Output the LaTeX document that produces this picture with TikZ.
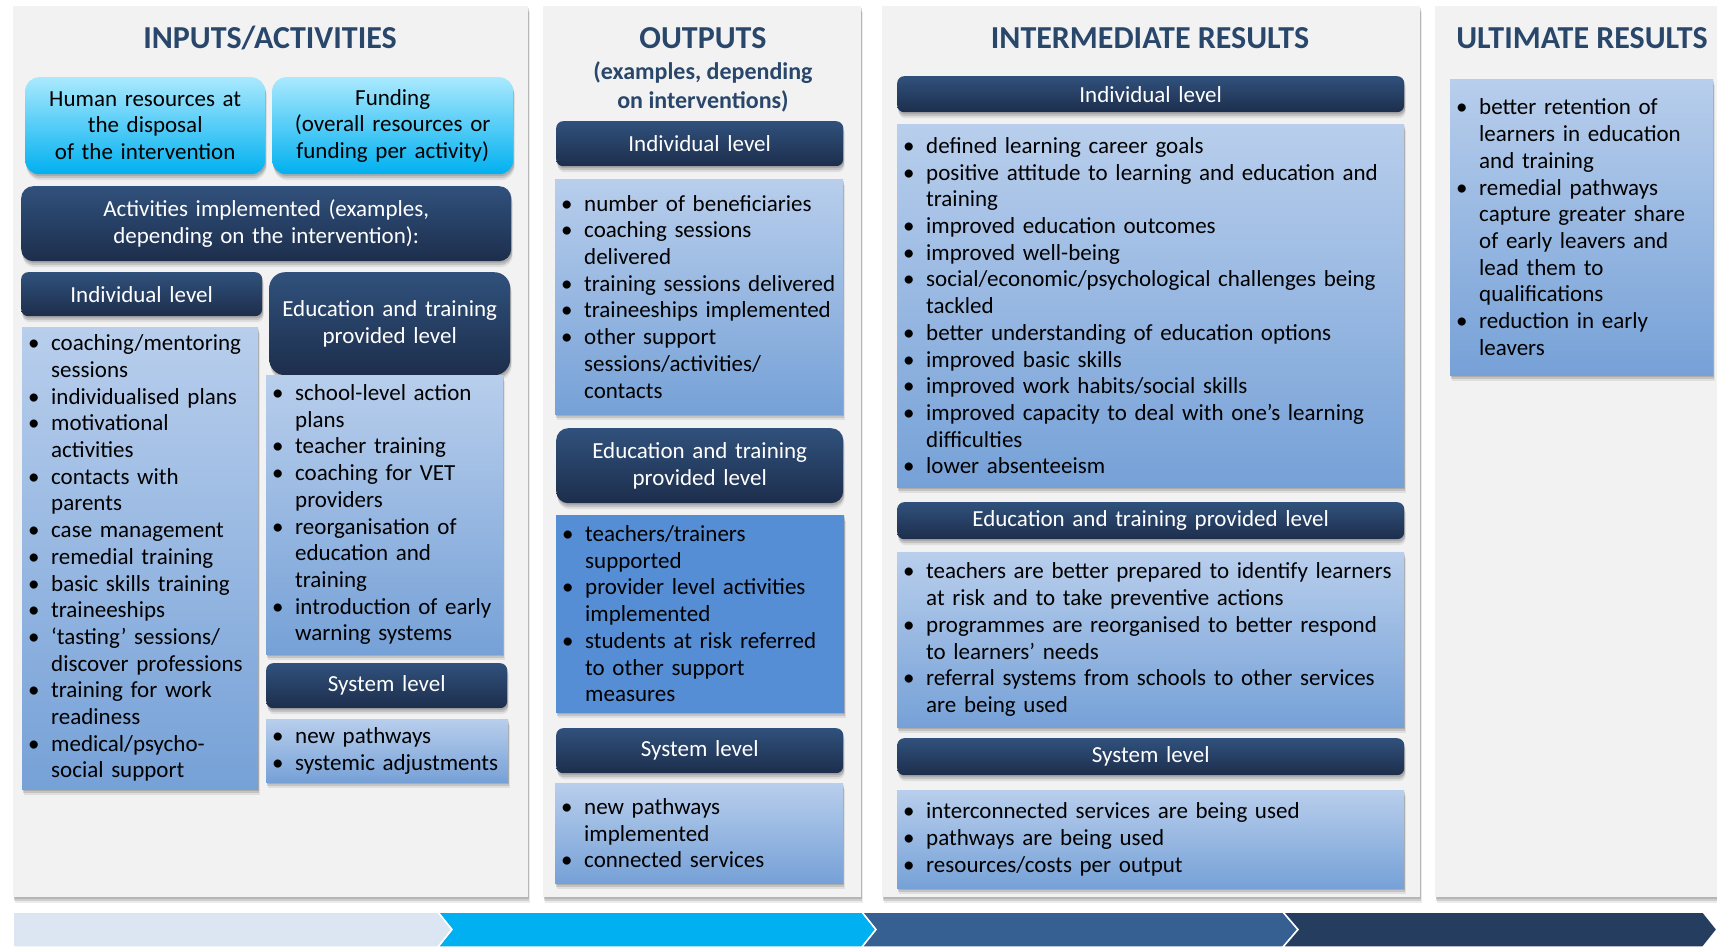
\documentclass[tikz,border=0pt]{standalone}
\usepackage{fontspec}
\setmainfont{Carlito}
\usetikzlibrary{shadows}

\definecolor{panelgray}{RGB}{242,242,242}
\definecolor{titleblue}{RGB}{41,70,107}
\definecolor{hdtop}{RGB}{48,81,124}
\definecolor{hdbot}{RGB}{29,46,76}
\definecolor{bltop}{RGB}{184,206,236}
\definecolor{blbot}{RGB}{118,161,215}
\definecolor{cytop}{RGB}{170,233,254}
\definecolor{cybot}{RGB}{0,176,240}
\definecolor{midblue}{RGB}{85,142,213}
\definecolor{arrA}{RGB}{220,230,242}
\definecolor{arrB}{RGB}{0,176,240}
\definecolor{arrC}{RGB}{54,96,146}
\definecolor{arrD}{RGB}{37,62,95}

% bullet line with hanging indent
\newlength{\bind}\setlength{\bind}{29pt}
\newcommand{\blt}[1]{\noindent\hangindent=\bind\hangafter=1\makebox[\bind][l]{\hspace{6pt}\textbullet}#1\par}

\begin{document}
\begin{tikzpicture}[x=1pt,y=-1pt,
    every node/.style={font=\fontsize{23}{26.7}\selectfont},
    shd/.style={drop shadow={shadow xshift=1pt,shadow yshift=-2pt,opacity=.12,fill=black},
        drop shadow={shadow xshift=1pt,shadow yshift=-4pt,opacity=.12,fill=black},
        drop shadow={shadow xshift=1.5pt,shadow yshift=-6pt,opacity=.08,fill=black}},
    panel/.style={anchor=north west,fill=panelgray,inner sep=0pt,shd},
    ttl/.style={text=titleblue,font=\fontsize{32}{38}\selectfont\bfseries},
    hdr/.style={anchor=north west,inner sep=0pt,align=center,text=white,rounded corners=7pt,
        top color=hdtop,bottom color=hdbot,shd},
    inbox/.style={anchor=north west,inner sep=0pt,align=center,rounded corners=14pt,
        top color=cytop,bottom color=cybot,shd},
    lst/.style={anchor=north west,inner sep=0pt,align=left,top color=bltop,bottom color=blbot,shd},
    chev/.style={draw=white,line width=1.5pt}]
  \useasboundingbox (0,0) rectangle (1717,947);

  % columns
  \node[panel,minimum width=515pt,minimum height=891pt] (p1) at (13,6) {};
  \node[panel,minimum width=318pt,minimum height=891pt] (p2) at (543,6) {};
  \node[panel,minimum width=538pt,minimum height=891pt] (p3) at (882,6) {};
  \node[panel,minimum width=300pt,minimum height=891pt] (p4) at (1435,6) {};

  % inputs / activities
  \node[ttl] (t1) at (270,38) {INPUTS/ACTIVITIES};
  \node[inbox,text width=240pt,minimum height=97pt] (hum) at (25,77)
    {Human resources at\\the disposal\\of the intervention};
  \node[inbox,text width=241pt,minimum height=97pt] (fund) at (272,77)
    {Funding\\(overall resources or\\funding per activity)};
  \node[hdr,text width=490pt,minimum height=75pt,rounded corners=12pt] (act) at (21,186)
    {Activities implemented (examples,\\depending on the intervention):};
  \node[hdr,text width=241pt,minimum height=44pt] (aind) at (21,272) {Individual level};
  \node[hdr,text width=241pt,minimum height=103pt,rounded corners=16pt] (aedu) at (269,272)
    {Education and training\\provided level};
  \node[lst,text width=236pt,minimum height=462pt] (aindl) at (22,327) {%
    \blt{coaching/mentoring\newline sessions}
    \blt{individualised plans}
    \blt{motivational\newline activities}
    \blt{contacts with\newline parents}
    \blt{case management}
    \blt{remedial training}
    \blt{basic skills training}
    \blt{traineeships}
    \blt{‘tasting’ sessions/\newline discover professions}
    \blt{training for work\newline readiness}
    \blt{medical/psycho-\newline social support}};
  \node[lst,text width=237pt,minimum height=279pt] (aedul) at (266,375) {%
    \blt{school-level action\newline plans}
    \blt{teacher training}
    \blt{coaching for VET\newline providers}
    \blt{reorganisation of\newline education and\newline training}
    \blt{introduction of early\newline warning systems}};
  \node[hdr,text width=241pt,minimum height=45pt] (asys) at (266,663) {System level};
  \node[lst,text width=242pt,minimum height=63pt] (asysl) at (266,719) {%
    \blt{new pathways}
    \blt{systemic adjustments}};

  % outputs
  \node[ttl] (t2) at (703,38) {OUTPUTS};
  \node[text=titleblue,align=center,font=\fontsize{24}{29}\selectfont\bfseries] (t2s) at (703,87)
    {(examples, depending\\on interventions)};
  \node[hdr,text width=287pt,minimum height=45pt] (oind) at (556,121) {Individual level};
  \node[lst,text width=288pt,minimum height=235pt] (oindl) at (555,179) {%
    \blt{number of beneficiaries}
    \blt{coaching sessions\newline delivered}
    \blt{training sessions delivered}
    \blt{traineeships implemented}
    \blt{other support\newline sessions/activities/\newline contacts}};
  \node[hdr,text width=287pt,minimum height=75pt,rounded corners=12pt] (oedu) at (556,428)
    {Education and training\\provided level};
  \node[lst,fill=midblue,top color=midblue,bottom color=midblue,text width=288pt,minimum height=197pt] (oedul) at (556,515) {%
    \blt{teachers/trainers\newline supported}
    \blt{provider level activities\newline implemented}
    \blt{students at risk referred\newline to other support\newline measures}};
  \node[hdr,text width=287pt,minimum height=45pt] (osys) at (556,728) {System level};
  \node[lst,text width=288pt,minimum height=100pt] (osysl) at (555,783) {%
    \blt{new pathways\newline implemented}
    \blt{connected services}};

  % intermediate results
  \node[ttl] (t3) at (1150,38) {INTERMEDIATE RESULTS};
  \node[hdr,text width=507pt,minimum height=36pt] (iind) at (897,76) {Individual level};
  \node[lst,text width=507pt,minimum height=363pt] (iindl) at (897,124) {%
    \blt{defined learning career goals}
    \blt{positive attitude to learning and education and\newline training}
    \blt{improved education outcomes}
    \blt{improved well-being}
    \blt{social/economic/psychological challenges being\newline tackled}
    \blt{better understanding of education options}
    \blt{improved basic skills}
    \blt{improved work habits/social skills}
    \blt{improved capacity to deal with one’s learning\newline difficulties}
    \blt{lower absenteeism}};
  \node[hdr,text width=507pt,minimum height=37pt] (iedu) at (897,502) {Education and training provided level};
  \node[lst,text width=507pt,minimum height=175pt] (iedul) at (897,552) {%
    \blt{teachers are better prepared to identify learners\newline at risk and to take preventive actions}
    \blt{programmes are reorganised to better respond\newline to learners’ needs}
    \blt{referral systems from schools to other services\newline are being used}};
  \node[hdr,text width=507pt,minimum height=37pt] (isys) at (897,738) {System level};
  \node[lst,text width=507pt,minimum height=98pt] (isysl) at (897,790) {%
    \blt{interconnected services are being used}
    \blt{pathways are being used}
    \blt{resources/costs per output}};

  % ultimate results
  \node[ttl] (t4) at (1582,38) {ULTIMATE RESULTS};
  \node[lst,text width=263pt,minimum height=296pt] (ultl) at (1450,79) {%
    \blt{better retention of\newline learners in education\newline and training}
    \blt{remedial pathways\newline capture greater share\newline of early leavers and\newline lead them to\newline qualifications}
    \blt{reduction in early\newline leavers}};

  % arrow band
  \filldraw[chev,fill=arrA] (13,912) -- (438,912) -- (452,929.5) -- (438,947) -- (13,947) -- cycle;
  \filldraw[chev,fill=arrB] (438,912) -- (862,912) -- (876,929.5) -- (862,947) -- (438,947) -- (452,929.5) -- cycle;
  \filldraw[chev,fill=arrC] (862,912) -- (1283,912) -- (1298,929.5) -- (1283,947) -- (862,947) -- (876,929.5) -- cycle;
  \filldraw[chev,fill=arrD] (1283,912) -- (1703,912) -- (1717,929.5) -- (1703,947) -- (1283,947) -- (1298,929.5) -- cycle;
\end{tikzpicture}
\end{document}
